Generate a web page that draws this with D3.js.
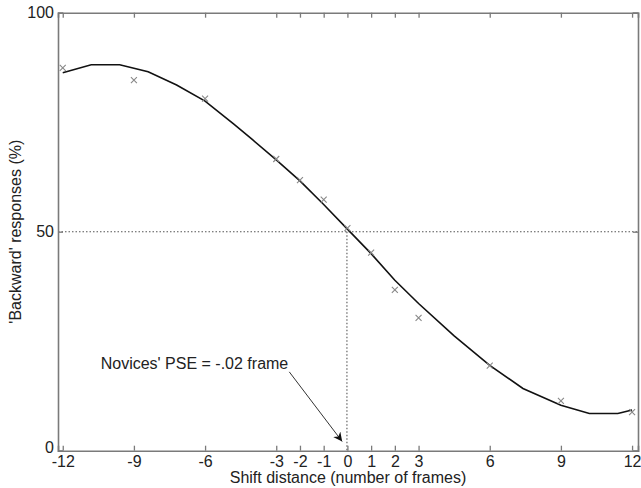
<!DOCTYPE html>
<html>
<head>
<meta charset="utf-8">
<script src="https://cdn.jsdelivr.net/npm/d3@7"></script>
<style>
	body {margin:0; background:#fff;}
	text {font-family:'Liberation Sans', Arial, sans-serif; fill:#222;}
</style>
</head>
<body>
<div id="plot"></div>
<script>
//data
var tickValues = [-12,-9,-6,-3,-2,-1,0,1,2,3,6,9,12];
var yTicks = [0,50,100];

//observed responses (x markers)
var shiftX = [-12,-9,-6,-3,-2,-1,0,1,2,3,6,9,12];
var backwardPct = [87.4,84.6,80.4,66.6,61.8,57.3,50.8,45.2,36.7,30.3,19.4,11.4,8.8];

//fitted curve, vertices as drawn
var fitX = [-12,-10.8,-9.6,-8.4,-7.2,-6,-4.8,-4,-3,-2,-1,0,1,2,3,4.5,6,7.4,9,10.2,11.4,12];
var fitY = [86.3,88.1,88.1,86.5,83.5,79.8,74.6,71.0,66.4,61.6,56.2,50.6,45.0,38.9,33.6,26.2,19.5,14.2,10.4,8.5,8.5,9.3];

var pse = -0.02;
var pseLabel = "Novices' PSE = -.02 frame";

var W = 641, H = 488;
var margin = {t:12.7,r:3,b:37.3,l:58};
var width = W-margin.l-margin.r,
	height = H-margin.t-margin.b;

var svg = d3.select('#plot')
	.append('svg')
	.attr('width',W)
	.attr('height',H);

var plot = svg.append('g')
	.attr('transform','translate('+margin.l+','+margin.t+')');

var x = d3.scaleLinear().domain([-12.2,12.25]).range([0,width]);
var y = d3.scaleLinear().domain([0,100]).range([height,0]);

var axisColor = '#7a7a7a';

//dotted reference lines
plot.append('line')
	.attr('x1',0).attr('x2',width)
	.attr('y1',y(50)).attr('y2',y(50))
	.attr('stroke','#555').attr('stroke-width',1.1)
	.attr('stroke-dasharray','1.5,2');
plot.append('line')
	.attr('x1',x(pse)).attr('x2',x(pse))
	.attr('y1',y(50)).attr('y2',y(0))
	.attr('stroke','#555').attr('stroke-width',1.1)
	.attr('stroke-dasharray','1.5,2');

//fitted curve
var pts = fitX.map(function(d,i){ return [d,fitY[i]]; });
plot.append('path')
	.datum(pts)
	.attr('fill','none')
	.attr('stroke','#111')
	.attr('stroke-width',1.6)
	.attr('d',d3.line().x(function(d){return x(d[0]);}).y(function(d){return y(d[1]);}));

//x markers
var s = 3;
shiftX.forEach(function(d,i){
	var cx = x(d), cy = y(backwardPct[i]);
	plot.append('path')
		.attr('d','M'+(cx-s)+','+(cy-s)+'L'+(cx+s)+','+(cy+s)+'M'+(cx-s)+','+(cy+s)+'L'+(cx+s)+','+(cy-s))
		.attr('stroke','#888')
		.attr('stroke-width',1.1);
});

//axes box
var xAxisB = d3.axisBottom(x).tickValues(tickValues).tickSize(-5).tickPadding(5).tickFormat(function(d){return String(d);});
var xAxisT = d3.axisTop(x).tickValues(tickValues).tickSize(-5).tickFormat('');
var yAxisL = d3.axisLeft(y).tickValues(yTicks).tickSize(-5).tickPadding(4);
var yAxisR = d3.axisRight(y).tickValues(yTicks).tickSize(-5).tickFormat('');

plot.append('g').attr('transform','translate(0,'+height+')').call(xAxisB);
plot.append('g').call(xAxisT);
var gy = plot.append('g').call(yAxisL);
plot.append('g').attr('transform','translate('+width+',0)').call(yAxisR);

plot.selectAll('.domain').attr('stroke',axisColor).attr('stroke-width',1.6);
plot.selectAll('.tick line').attr('stroke',axisColor).attr('stroke-width',1.3);
plot.selectAll('.tick text')
	.attr('fill','#222')
	.style('font-family',"'Liberation Sans', Arial, sans-serif")
	.style('font-size','16px');

//the 0 label sits just above the -12 label
gy.selectAll('.tick text').filter(function(d){ return d === 0; })
	.attr('dy','0.1em');

//axis titles
svg.append('text')
	.attr('x',margin.l+width/2)
	.attr('y',483)
	.attr('text-anchor','middle')
	.style('font-size','16px')
	.text('Shift distance (number of frames)');

svg.append('text')
	.attr('transform','translate(21,'+(margin.t+y(50))+') rotate(-90)')
	.attr('text-anchor','middle')
	.style('font-size','16px')
	.text("'Backward' responses (%)");

//annotation with arrow
svg.append('defs').append('marker')
	.attr('id','head')
	.attr('viewBox','0 0 10 10')
	.attr('refX',10).attr('refY',5)
	.attr('markerWidth',9).attr('markerHeight',9)
	.attr('markerUnits','userSpaceOnUse')
	.attr('orient','auto')
	.append('path')
	.attr('d','M0,0L10,5L0,10L3,5Z')
	.attr('fill','#111');

plot.append('line')
	.attr('x1',x(-2.45)).attr('y1',y(18.0))
	.attr('x2',x(-0.22)).attr('y2',y(2.1))
	.attr('stroke','#333').attr('stroke-width',1)
	.attr('marker-end','url(#head)');

plot.append('text')
	.attr('x',x(-10.4))
	.attr('y',y(18.65))
	.style('font-size','16px')
	.text(pseLabel);
</script>
</body>
</html>
